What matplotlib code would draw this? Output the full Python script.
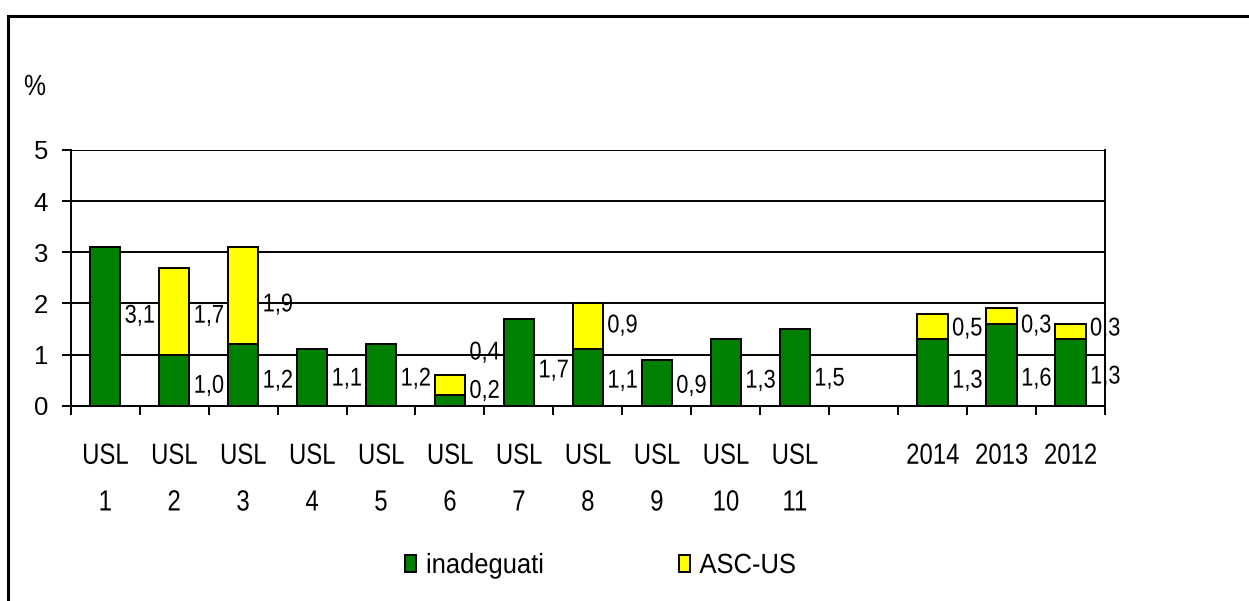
import numpy as np
import matplotlib
matplotlib.use('Agg')
import matplotlib.pyplot as plt
from matplotlib.lines import Line2D
from matplotlib.patheffects import AbstractPathEffect
from matplotlib.transforms import Affine2D

plt.rcParams['font.family'] = ['Liberation Sans', 'DejaVu Sans']

# data
categories = ['USL\n1', 'USL\n2', 'USL\n3', 'USL\n4', 'USL\n5', 'USL\n6', 'USL\n7',
              'USL\n8', 'USL\n9', 'USL\n10', 'USL\n11', '', '2014', '2013', '2012']
inadeguati = [3.1, 1.0, 1.2, 1.1, 1.2, 0.2, 1.7, 1.1, 0.9, 1.3, 1.5, np.nan, 1.3, 1.6, 1.3]
asc_us = [0, 1.7, 1.9, 0, 0, 0.4, 0, 0.9, 0, 0, 0, np.nan, 0.5, 0.3, 0.3]

# label layout (y in data units, where Excel put the labels)
lab_y_green = [1.76, 0.39, 0.49, 0.53, 0.53, 0.29, 0.69, 0.49, 0.39, 0.49, 0.53, None, 0.49, 0.53, 0.57]
lab_y_yellow = [None, 1.76, 1.98, None, None, 1.04, None, 1.57, None, None, None, None, 1.51, 1.57, 1.51]

GREEN = '#008000'
YELLOW = '#FFFF00'
LW = 1.4


class Condense(AbstractPathEffect):
    """squeeze glyphs horizontally (no narrow font installed)"""

    def __init__(self, sx=0.8, anchor='center'):
        super().__init__()
        self.sx = sx
        self.anchor = anchor

    def draw_path(self, renderer, gc, tpath, affine, rgbFace=None):
        bb = tpath.get_extents(affine)
        if self.anchor == 'left':
            cx = bb.x0
        elif self.anchor == 'right':
            cx = bb.x1
        else:
            cx = (bb.x0 + bb.x1) / 2
        tr = affine + Affine2D().translate(-cx, 0).scale(self.sx, 1).translate(cx, 0)
        renderer.draw_path(gc, tpath, tr, rgbFace)


fig = plt.figure(figsize=(12.49, 6.01), dpi=100)
ax = fig.add_axes([0.0566, 0.325, 0.8281, 0.4255])

x = np.arange(len(categories))
g = np.array(inadeguati)
yv = np.array(asc_us)
w = 0.44
ax.bar(x, g, w, color=GREEN, edgecolor='black', linewidth=LW, label='inadeguati', zorder=3)
mask = np.nan_to_num(yv) > 0
ax.bar(x[mask], yv[mask], w, bottom=g[mask], color=YELLOW, edgecolor='black',
       linewidth=LW, label='ASC-US', zorder=3)

for i in range(len(categories)):
    for val, ly in ((inadeguati[i], lab_y_green[i]), (asc_us[i], lab_y_yellow[i])):
        if ly is None:
            continue
        ax.text(i + w / 2 + 0.06, ly, f'{val:.1f}'.replace('.', ','),
                ha='left', va='center', fontsize=18.5, zorder=4,
                path_effects=[Condense(0.85, 'left')])

ax.set_xlim(-0.5, len(categories) - 0.5)
ax.set_ylim(0, 5)
ax.set_yticks(range(6))
ax.tick_params(axis='y', labelsize=18.5, length=6.3, width=LW, direction='out', pad=10)
ax.yaxis.grid(True, color='black', linewidth=LW, zorder=0)
ax.set_axisbelow(True)

ax.set_xticks(x)
ax.set_xticklabels(categories, fontsize=21, linespacing=1.85)
ax.tick_params(axis='x', length=0, pad=26)
for t in ax.get_xticklabels():
    t.set_path_effects([Condense(0.82, 'center')])
ax.set_xticks(np.arange(-0.5, len(categories), 1), minor=True)
ax.tick_params(axis='x', which='minor', length=6.5, width=LW, direction='out')

ax.spines['top'].set_visible(False)
for s in ['left', 'right', 'bottom']:
    ax.spines[s].set_linewidth(LW)

fig.text(35 / 1249, 1 - 87 / 601, '%', fontsize=21, ha='center', va='center',
         path_effects=[Condense(0.85, 'center')])

leg = fig.legend(loc='center left', bbox_to_anchor=(405 / 1249, 1 - 566 / 601), ncol=2,
                 frameon=False, fontsize=20, handlelength=0.4, handleheight=0.55,
                 handletextpad=0.35, columnspacing=4.5, borderpad=0, borderaxespad=0)
for t in leg.get_texts():
    t.set_path_effects([Condense(0.92, 'left')])

# outer chart frame (left and top edges visible)
fig.add_artist(Line2D([8 / 1249, 8 / 1249], [0, 1 - 16 / 601], color='black', linewidth=2.2,
                      transform=fig.transFigure))
fig.add_artist(Line2D([8 / 1249, 1], [1 - 16 / 601, 1 - 16 / 601], color='black', linewidth=2.2,
                      transform=fig.transFigure))

fig.savefig('out.png', dpi=100)
